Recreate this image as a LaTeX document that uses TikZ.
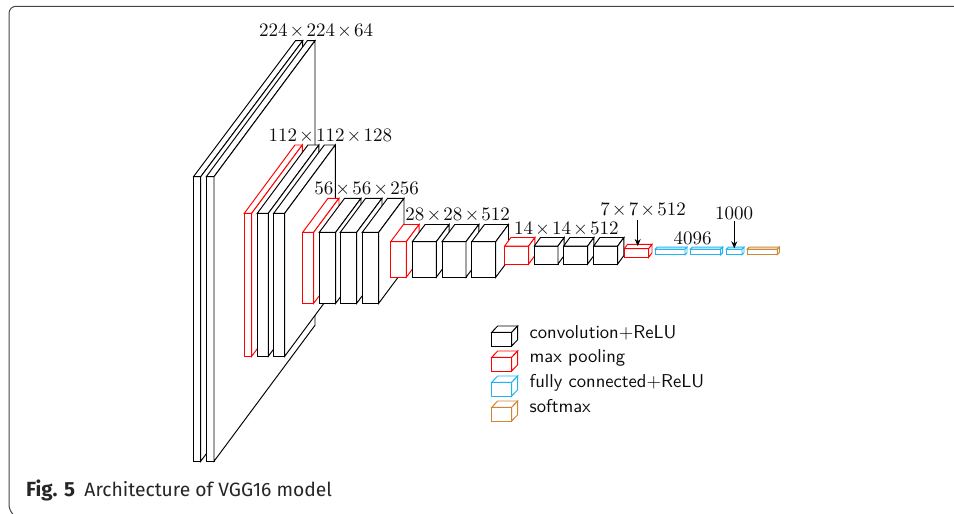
\documentclass[tikz,border=0pt]{standalone}
\usepackage{fontspec}
\newfontfamily\capfont{Fira Sans}
\usetikzlibrary{arrows.meta}
\definecolor{fcblue}{RGB}{30,180,245}
\definecolor{softbrown}{RGB}{205,135,50}
\definecolor{framegray}{RGB}{70,70,70}
\tikzset{
  cube/.style={fill=white,line width=0.95pt,line join=miter},
  legendcube/.style={line width=1.15pt},
  dimlabel/.style={scale=1.9,anchor=base,inner sep=0pt,text=black!95},
  legendlabel/.style={scale=1.86,anchor=base west,inner sep=0pt,font=\sffamily,text=black!95},
  pointer/.style={-{Stealth[length=7pt,width=6pt]},line width=0.95pt},
  captiontext/.style={anchor=base west,inner sep=0pt,font=\capfont\fontsize{19.3}{22}\selectfont,text=black!85}
}
% name, colour, x0, x1, ytop, ybot, dx, dy
\newcommand{\cubebox}[8]{%
  \draw[cube,draw=#2] (#3,#5) rectangle (#4,#6);
  \draw[cube,draw=#2] (#3,#5) -- ++(#7,-#8) -- ++(#4-#3,0) -- (#4,#5) -- cycle;
  \draw[cube,draw=#2] (#4,#5) -- ++(#7,-#8) -- (#4+#7,#6-#8) -- (#4,#6) -- cycle;
  \coordinate (#1) at (#3+#4/2-#3/2+#7/2,#5-#8/2);
}
\newcommand{\dimtext}[1]{$\medmuskip=2mu #1$}
\begin{document}
\begin{tikzpicture}[x=1pt,y=-1pt]
\useasboundingbox (0,0) rectangle (954,514);
\fill[white] (0,0) rectangle (954,514);
\coordinate (frameA) at (954,6.3);
\coordinate (frameB) at (12,514);
\draw[framegray,line width=1pt,rounded corners=7pt] (frameA) -- (9,6.3) -- (9,512) -- (frameB);
% layer 1
\cubebox{a1}{black}{193.5}{200.7}{176.7}{461.3}{102}{136}
\cubebox{a2}{black}{206.3}{214}{176.7}{461.3}{101}{136}
% layer 2
\cubebox{b1}{red}{244.3}{251.7}{213.3}{356.3}{50.6}{68.3}
\cubebox{b2}{black}{257.3}{268.3}{213.3}{356.3}{50.6}{68.3}
\cubebox{b3}{black}{273.7}{284.7}{213.3}{356.3}{50.6}{68.3}
% layer 3
\cubebox{c1}{red}{302.7}{313.7}{232.3}{303.3}{25.3}{34}
\cubebox{c2}{black}{319.3}{335.7}{232.3}{303.3}{25.3}{34}
\cubebox{c3}{black}{340.3}{356.7}{232.3}{303.3}{25.3}{34}
\cubebox{c4}{black}{362.3}{378.7}{232.3}{303.3}{25.3}{34}
% layer 4
\cubebox{d1}{red}{390.7}{406.3}{241.7}{277.3}{12.8}{17.2}
\cubebox{d2}{black}{412.3}{436.3}{241.7}{277.3}{12.8}{17.2}
\cubebox{d3}{black}{442}{466}{241.7}{277.3}{12.8}{17.2}
\cubebox{d4}{black}{471.7}{495.7}{241.7}{277.3}{12.8}{17.2}
% layer 5
\cubebox{e1}{red}{504.7}{528.7}{246}{264}{6.2}{8.5}
\cubebox{e2}{black}{534.3}{558}{246}{264}{6.2}{8.5}
\cubebox{e3}{black}{563.7}{587.7}{246}{264}{6.2}{8.5}
\cubebox{e4}{black}{593.7}{617.7}{246}{264}{6.2}{8.5}
% layer 6
\cubebox{f1}{red}{624.3}{648.7}{248.7}{257.3}{3.3}{4.4}
\cubebox{g1}{fcblue}{655}{685}{249.2}{254.7}{2}{2}
\cubebox{g2}{fcblue}{690.3}{720.7}{249.2}{254.7}{2}{2}
\cubebox{g3}{fcblue}{726.3}{742}{249.2}{254.7}{2}{2}
\cubebox{h1}{softbrown}{747}{777.3}{249.2}{254.7}{2}{2}
% dimension labels
\node[dimlabel] (la) at (316,36.7) {\dimtext{224\times224\times64}};
\node[dimlabel] (lb) at (330.3,141.7) {\dimtext{112\times112\times128}};
\node[dimlabel] (lc) at (366.5,194.3) {\dimtext{56\times56\times256}};
\node[dimlabel] (ld) at (457.7,220.7) {\dimtext{28\times28\times512}};
\node[dimlabel] (le) at (566.3,234) {\dimtext{14\times14\times512}};
\node[dimlabel] (lf) at (643,215.7) {\dimtext{7\times7\times512}};
\node[dimlabel] (lg) at (692.5,244.7) {$4096$};
\node[dimlabel] (lh) at (734.2,219) {$1000$};
\coordinate (tipf) at (637.7,246);
\coordinate (tipg) at (734.3,248.3);
\draw[pointer] (lf.south -| tipf) ++(0,2) -- (tipf);
\draw[pointer] (lh.south -| tipg) ++(0,2) -- (tipg);
% legend
\begin{scope}[every path/.append style={legendcube}]
\cubebox{k1}{black}{491.7}{511.7}{332.3}{346}{6}{6.3}
\cubebox{k2}{red}{491.7}{511.7}{357.3}{371}{6}{6.3}
\cubebox{k3}{fcblue}{491.7}{511.7}{382.3}{396}{6}{6.3}
\cubebox{k4}{softbrown}{491.7}{511.7}{407.3}{421}{6}{6.3}
\end{scope}
\node[legendlabel] (t1) at (529.3,338) {convolution$+$ReLU};
\node[legendlabel] (t2) at (529.3,362.7) {max pooling};
\node[legendlabel] (t3) at (529.3,387) {fully connected$+$ReLU};
\node[legendlabel] (t4) at (529.3,412.7) {softmax};
% caption
\node[captiontext] (cap) at (26,496.7) {{\fontsize{20.5}{22}\selectfont\textbf{Fig. 5}}\hspace{9.4pt}Architecture of VGG16 model};
\end{tikzpicture}
\end{document}
